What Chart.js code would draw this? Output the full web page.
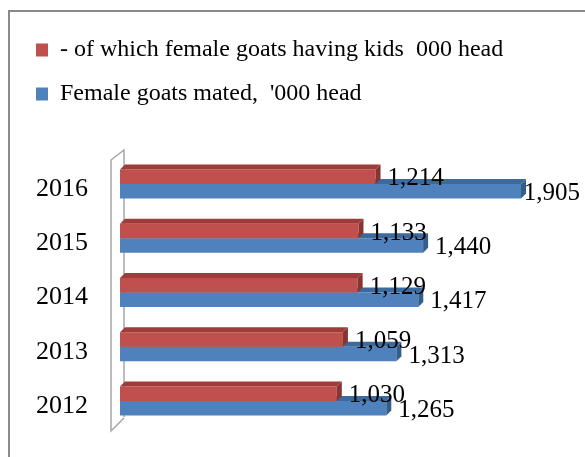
<!DOCTYPE html>
<html>
<head>
<meta charset="utf-8">
<script src="https://cdn.jsdelivr.net/npm/chart.js@4"></script>
<style>
  html, body { margin: 0; padding: 0; background: #fff; overflow: hidden; }
  #wrap { position: relative; width: 585px; height: 457px; }
  #frame { position: absolute; left: 8px; top: 10px; width: 700px; height: 600px; border: 2px solid #8a8a8a; box-sizing: border-box; }
  canvas { position: absolute; left: 0; top: 0; }
</style>
</head>
<body>
<div id="wrap">
  <div id="frame"></div>
  <canvas id="barChart" width="585" height="457"></canvas>
</div>
<script>
const years = ['2016', '2015', '2014', '2013', '2012'];
const kidsLabel = '- of which female goats having kids  000 head';
const matedLabel = "Female goats mated,  '000 head";
const femaleKids = [1214, 1133, 1129, 1059, 1030];
const femaleMated = [1905, 1440, 1417, 1313, 1265];

const serif = "'Liberation Serif', 'Times New Roman', serif";
const depth = 5;

// extra space under the legend before the plot
const legendGap = {
    id: 'legendGap',
    beforeInit(chart) {
        const fit = chart.legend.fit;
        chart.legend.fit = function () {
            fit.bind(chart.legend)();
            this.height += 41;
        };
    }
};

// thin 3D wall behind the bars
const wall = {
    id: 'wall',
    beforeDatasetsDraw(chart) {
        const {ctx, chartArea: a} = chart;
        const x0 = a.left - 9, x1 = a.left + 4;
        ctx.save();
        ctx.strokeStyle = '#a6a6a6';
        ctx.lineWidth = 1.5;
        ctx.beginPath();
        ctx.moveTo(x1, a.bottom - 11);
        ctx.lineTo(x1, a.top - 7);
        ctx.lineTo(x0, a.top + 3);
        ctx.lineTo(x0, a.bottom + 3);
        ctx.lineTo(x1, a.bottom - 10);
        ctx.stroke();
        ctx.restore();
    }
};

// top and end faces for each bar
const faces = {
    id: 'faces',
    afterDatasetDraw(chart, args) {
        const ctx = chart.ctx;
        const topCol = args.index === 0 ? '#9d3c39' : '#3d6a9c';
        const endCol = args.index === 0 ? '#8a3431' : '#345d8a';
        ctx.save();
        args.meta.data.forEach(el => {
            const {x, y, base, height} = el.getProps(['x', 'y', 'base', 'height'], true);
            const t = y - height / 2, b = y + height / 2;
            ctx.fillStyle = topCol;
            ctx.beginPath();
            ctx.moveTo(base, t);
            ctx.lineTo(base + depth, t - depth);
            ctx.lineTo(x + depth, t - depth);
            ctx.lineTo(x, t);
            ctx.closePath();
            ctx.fill();
            ctx.fillStyle = endCol;
            ctx.beginPath();
            ctx.moveTo(x, t);
            ctx.lineTo(x + depth, t - depth);
            ctx.lineTo(x + depth, b - depth);
            ctx.lineTo(x, b);
            ctx.closePath();
            ctx.fill();
        });
        ctx.restore();
    }
};

// value labels to the right of each bar
const valueLabels = {
    id: 'valueLabels',
    afterDraw(chart) {
        const ctx = chart.ctx;
        ctx.save();
        ctx.font = '25px ' + serif;
        ctx.fillStyle = '#000';
        ctx.textAlign = 'left';
        ctx.textBaseline = 'middle';
        chart.data.datasets.forEach((ds, i) => {
            chart.getDatasetMeta(i).data.forEach((el, j) => {
                const txt = ds.data[j].toLocaleString('en-US');
                const w = ctx.measureText(txt).width;
                const x = Math.min(el.x + 12, chart.width - w - 5);
                ctx.fillText(txt, x, el.y + 2);
            });
        });
        ctx.restore();
    }
};

const ctx = document.getElementById('barChart').getContext('2d');
new Chart(ctx, {
    type: 'bar',
    data: {
        labels: years,
        datasets: [{
            label: kidsLabel,
            data: femaleKids,
            backgroundColor: '#c0504d'
        }, {
            label: matedLabel,
            data: femaleMated,
            backgroundColor: '#4f81bd'
        }]
    },
    options: {
        indexAxis: 'y',
        responsive: false,
        animation: false,
        categoryPercentage: 0.535,
        barPercentage: 1,
        layout: { padding: { left: 16, top: 18, right: 44, bottom: 29 } },
        plugins: {
            tooltip: { enabled: false },
            legend: {
                position: 'top',
                align: 'start',
                labels: {
                    boxWidth: 12,
                    boxHeight: 13,
                    padding: 20,
                    color: '#000',
                    font: { family: serif, size: 24 }
                }
            }
        },
        scales: {
            x: { display: false, min: 0, max: 2000 },
            y: {
                grid: { display: false, drawTicks: false },
                border: { display: false },
                ticks: {
                    color: '#000',
                    padding: 32,
                    labelOffset: 5,
                    font: { family: serif, size: 26 }
                },
                afterFit(scale) {
                    scale.width = 104;
                    scale.paddingTop = 0;
                    scale.paddingBottom = 0;
                }
            }
        }
    },
    plugins: [legendGap, wall, faces, valueLabels]
});
</script>
</body>
</html>
